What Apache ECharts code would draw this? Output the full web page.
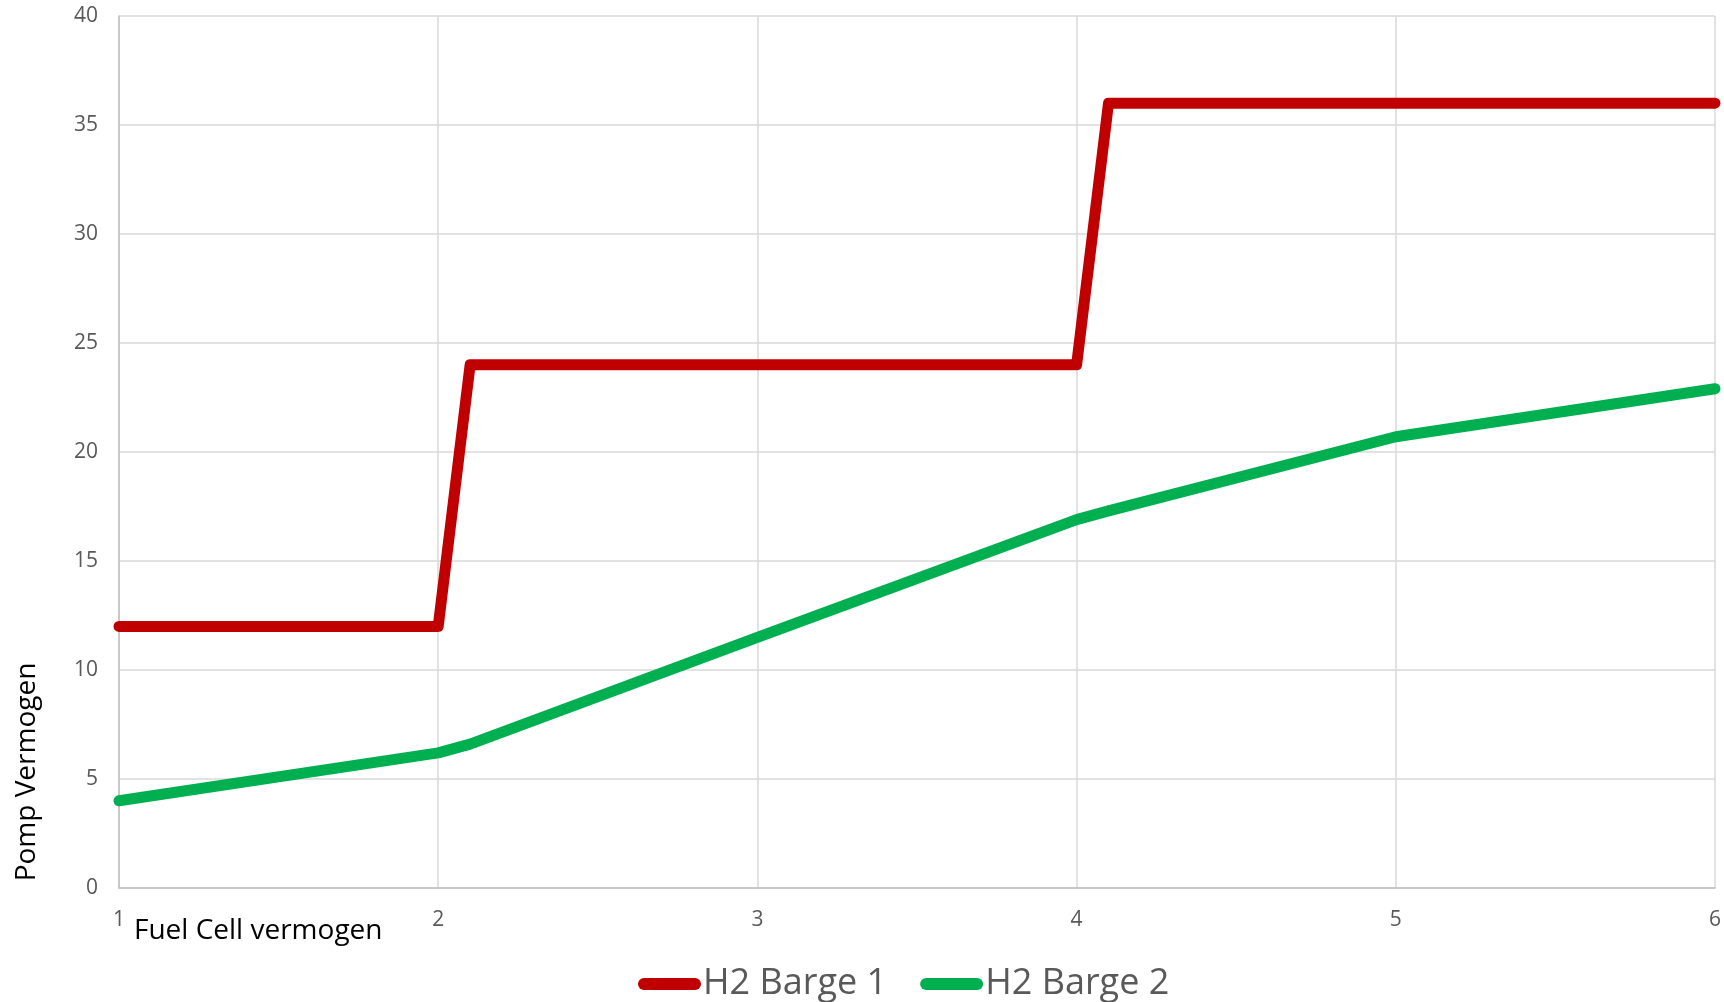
<!DOCTYPE html>
<html>
<head>
<meta charset="utf-8">
<script src="https://cdn.jsdelivr.net/npm/echarts@6/dist/echarts.min.js"></script>
<style>
  html,body{margin:0;padding:0;background:#fff;}
  #main{width:1724px;height:1002px;}
</style>
</head>
<body>
<div id="main"></div>
<script>
// data
const fuelCell1 = [1, 2, 2.1, 4, 4.1, 6];
const barge1 = [12, 12, 24, 24, 36, 36];
const fuelCell2 = [1, 2, 2.1, 3, 4, 4.1, 5, 6];
const barge2 = [4.0, 6.2, 6.6, 11.5, 16.9, 17.3, 20.7, 22.9];
const seriesNames = ['H2 Barge 1', 'H2 Barge 2'];

const font = '"Open Sans", "Liberation Sans", sans-serif';
const pill = 'path://M6,0 L57,0 A6,6 0 0 1 57,12 L6,12 A6,6 0 0 1 6,0 Z';

var myChart = echarts.init(document.getElementById('main'));
myChart.setOption({
  animation: false,
  grid: { left: 119, top: 16, right: 6, bottom: 114 },
  xAxis: {
    type: 'value',
    min: 1,
    max: 6,
    interval: 1,
    axisLine: { show: true, lineStyle: { color: '#bfbfbf', width: 1.5 } },
    axisTick: { show: false },
    axisLabel: { color: '#595959', fontSize: 21, fontFamily: font, margin: 22 },
    splitLine: { show: true, lineStyle: { color: '#d9d9d9', width: 1.5 } }
  },
  yAxis: {
    type: 'value',
    min: 0,
    max: 40,
    interval: 5,
    axisLine: { show: true, lineStyle: { color: '#bfbfbf', width: 1.5 } },
    axisTick: { show: false },
    axisLabel: { color: '#595959', fontSize: 21, fontFamily: font, margin: 21 },
    splitLine: { show: true, lineStyle: { color: '#d9d9d9', width: 1.5 } }
  },
  legend: {
    left: 633,
    top: 961,
    itemWidth: 63,
    itemHeight: 12,
    itemGap: 33,
    icon: pill,
    textStyle: { color: '#595959', fontSize: 36, fontFamily: font, padding: [0, 0, 0, -3] },
    data: seriesNames
  },
  graphic: [
    {
      type: 'text',
      left: 134,
      top: 917,
      style: { text: 'Fuel Cell vermogen', fill: '#000', font: '28px ' + font }
    },
    {
      type: 'text',
      x: 27,
      y: 772,
      rotation: Math.PI / 2,
      style: { text: 'Pomp Vermogen', fill: '#000', font: '28px ' + font, align: 'center', verticalAlign: 'middle' }
    }
  ],
  series: [
    {
      name: seriesNames[0],
      type: 'line',
      showSymbol: false,
      data: fuelCell1.map((x, i) => [x, barge1[i]]),
      itemStyle: { color: '#c00000' },
      lineStyle: { color: '#c00000', width: 11, cap: 'round', join: 'round' },
      z: 3
    },
    {
      name: seriesNames[1],
      type: 'line',
      showSymbol: false,
      data: fuelCell2.map((x, i) => [x, barge2[i]]),
      itemStyle: { color: '#00b050' },
      lineStyle: { color: '#00b050', width: 11, cap: 'round', join: 'round' },
      z: 2
    }
  ]
});
</script>
</body>
</html>
